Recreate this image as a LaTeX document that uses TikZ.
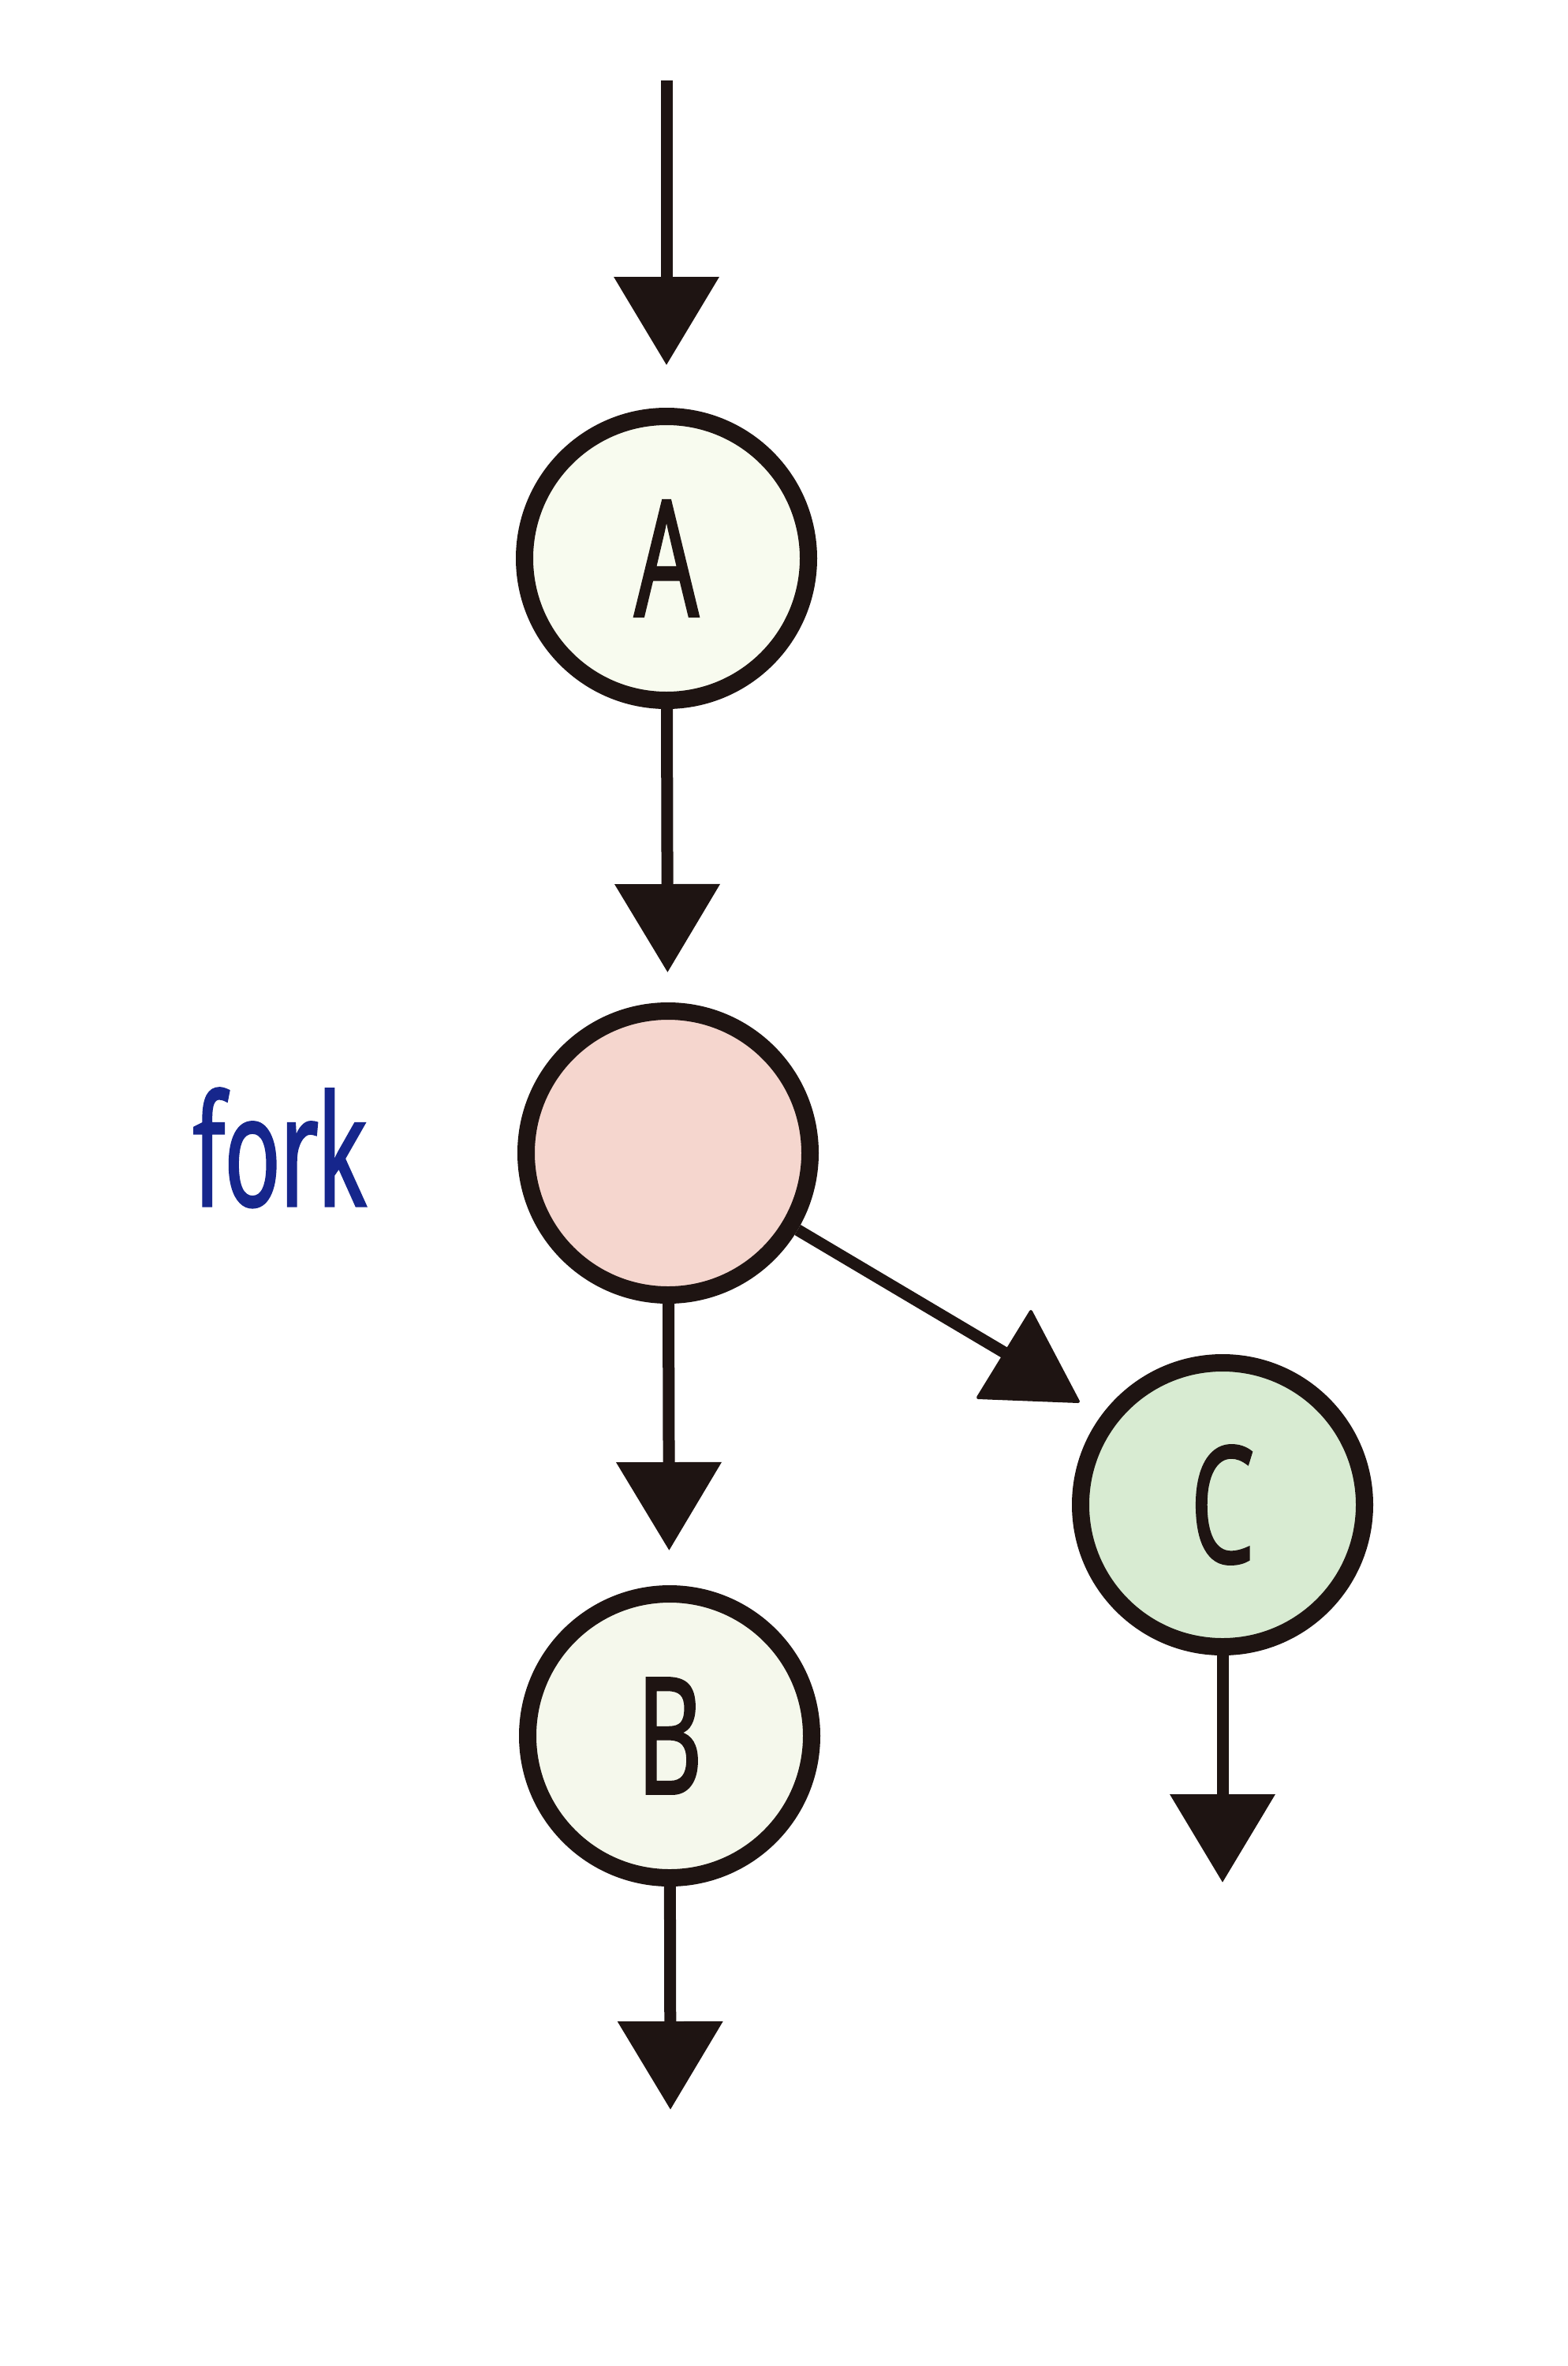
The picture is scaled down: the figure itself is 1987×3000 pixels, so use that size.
\documentclass[tikz,border=0pt]{standalone}
\usepackage{fontspec}
\setmainfont{Open Sans}
\newfontfamily\condfont[FakeStretch=0.62,FakeBold=1.7]{Open Sans}
\newfontfamily\tagfont[FakeStretch=0.6,FakeBold=1.7]{Open Sans}
\usetikzlibrary{arrows.meta}
\definecolor{edgecol}{RGB}{30,20,18}
\definecolor{fillA}{RGB}{248,251,239}
\definecolor{fillF}{RGB}{245,214,206}
\definecolor{fillB}{RGB}{245,248,236}
\definecolor{fillC}{RGB}{216,235,210}
\definecolor{forkblue}{RGB}{22,38,140}
\begin{document}
\begin{tikzpicture}[x=1pt,y=-1pt,
  state/.style={circle, draw=edgecol, line width=22pt, minimum size=360pt, inner sep=0pt,
    font=\condfont\fontsize{205}{205}\selectfont, text=edgecol},
  link/.style={draw=edgecol, line width=15pt},
  flow/.style={link, -{Triangle[length=112pt,width=130pt]}},
  headtri/.style={fill=edgecol, draw=edgecol, line width=4pt, line join=round},
  tag/.style={font=\tagfont\fontsize{195}{195}\selectfont, text=forkblue, inner sep=0pt}]
\useasboundingbox[fill=white] (0,0) rectangle (1987,3000);
\node[state, fill=fillA] (A) at (845,708) {A};
\node[state, fill=fillF] (F) at (847,1462) {};
\node[state, fill=fillB] (B) at (849,2201) {B};
\node[state, fill=fillC] (C) at (1550,1908) {C};
\node[tag, anchor=base west] (forklabel) at (245,1529) {fork};
\coordinate (in) at (845,102);
\coordinate (Bout) at (850,2675);
\coordinate (Cout) at (1550,2387);
\coordinate (Ctip) at (1292,1726);
\draw[flow, shorten >=54pt] (in) -- (A);
\draw[flow, shorten >=38pt] (A) -- (F);
\draw[flow, shorten >=44pt] (F) -- (B);
\draw[link] (F) -- (Ctip);
\path[headtri] (1240,1772) -- (1367,1777) -- (1307,1663) -- cycle;
\draw[flow] (B) -- (Bout);
\draw[flow] (C) -- (Cout);
\end{tikzpicture}
\end{document}
